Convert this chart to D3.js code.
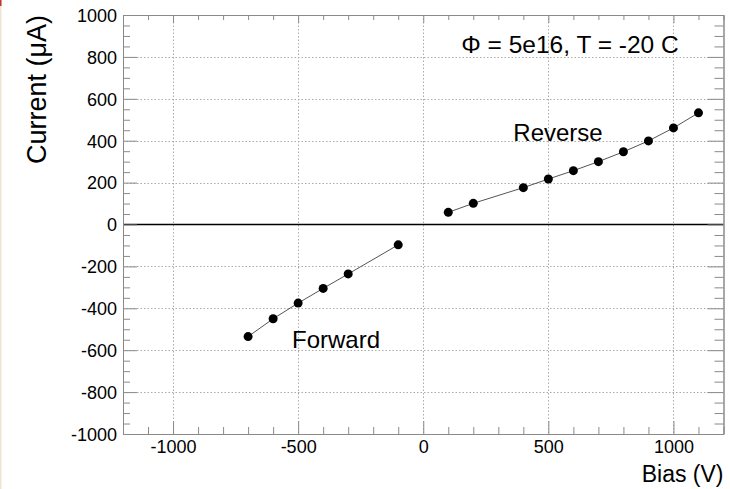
<!DOCTYPE html>
<html>
<head>
<meta charset="utf-8">
<script src="https://cdn.jsdelivr.net/npm/d3@7"></script>
<style>
  body { margin: 0; background: #fff; }
  svg { font-family: "Liberation Sans", Arial, sans-serif; }
</style>
</head>
<body>
<div id="vis"></div>
<script>
// I-V curve, forward and reverse bias
var forwardBias = [-700, -600, -500, -400, -300, -100];
var forwardCurrent = [-535, -450, -375, -305, -236, -97];
var reverseBias = [100, 200, 400, 500, 600, 700, 800, 900, 1000, 1100];
var reverseCurrent = [58, 101, 176, 217, 257, 300, 347, 399, 461, 533];

var xMajor = [-1000, -500, 0, 500, 1000];
var yMajor = [-1000, -800, -600, -400, -200, 0, 200, 400, 600, 800, 1000];

var width = 730, height = 489;
var padLeft = 123, padRight = 723.5, padTop = 15, padBottom = 434;

var svg = d3.select('#vis').append('svg')
  .attr('width', width)
  .attr('height', height);

// thin strip on the left edge
svg.append('rect').attr('x', 0).attr('y', 0).attr('width', 1.5).attr('height', height).attr('fill', '#ece6d2');
svg.append('rect').attr('x', 0).attr('y', 0).attr('width', 1.5).attr('height', 6).attr('fill', '#c0392b');

var x = d3.scaleLinear().domain([-1200, 1200]).range([padLeft, padRight]);
var y = d3.scaleLinear().domain([-1000, 1000]).range([padBottom, padTop]);

var xMinor = d3.range(-1200, 1201, 100).filter(function (d) { return xMajor.indexOf(d) < 0; });
var yMinor = d3.range(-1000, 1001, 50).filter(function (d) { return yMajor.indexOf(d) < 0; });

// grid
var grid = svg.append('g').attr('stroke', '#aaa').attr('stroke-width', 1).attr('stroke-dasharray', '1.5,2');
grid.selectAll('.gx').data(xMajor).enter().append('line')
  .attr('x1', function (d) { return Math.round(x(d)) + 0.5; })
  .attr('x2', function (d) { return Math.round(x(d)) + 0.5; })
  .attr('y1', padTop).attr('y2', padBottom);
grid.selectAll('.gy').data(yMajor.filter(function (d) { return d !== 0; })).enter().append('line')
  .attr('y1', function (d) { return Math.round(y(d)) + 0.5; })
  .attr('y2', function (d) { return Math.round(y(d)) + 0.5; })
  .attr('x1', padLeft).attr('x2', padRight);

// zero line
svg.append('line')
  .attr('x1', padLeft).attr('x2', padRight)
  .attr('y1', y(0)).attr('y2', y(0))
  .attr('stroke', '#000').attr('stroke-width', 1.6);

function drawAxis(gen, tx, ty, vals, len) {
  var g = svg.append('g').attr('transform', 'translate(' + tx + ',' + ty + ')')
    .call(gen.tickValues(vals).tickSizeInner(len).tickSizeOuter(0).tickFormat(''));
  g.select('.domain').attr('stroke', '#8a8a8a');
  g.selectAll('.tick line').attr('stroke', '#8a8a8a');
  return g;
}

// bottom axis (ticks pointing inward)
var xb = drawAxis(d3.axisTop(x), 0, padBottom, xMajor, 13);
drawAxis(d3.axisTop(x), 0, padBottom, xMinor, 7);
xb.selectAll('.tick').append('text')
  .attr('y', 19)
  .attr('text-anchor', 'middle')
  .attr('fill', '#000').attr('font-size', 18)
  .text(function (d) { return String(d); });
// top axis
drawAxis(d3.axisBottom(x), 0, padTop, xMajor, 8);
drawAxis(d3.axisBottom(x), 0, padTop, xMinor, 5);
// left axis
var yl = drawAxis(d3.axisRight(y), padLeft, 0, yMajor, 14);
drawAxis(d3.axisRight(y), padLeft, 0, yMinor, 7);
yl.selectAll('.tick').append('text')
  .attr('x', -6).attr('dy', '0.35em')
  .attr('text-anchor', 'end')
  .attr('fill', '#000').attr('font-size', 18)
  .text(function (d) { return String(d); });
// right axis
drawAxis(d3.axisLeft(y), padRight, 0, yMajor, 16);
drawAxis(d3.axisLeft(y), padRight, 0, yMinor, 9);

// series
var line = d3.line()
  .x(function (d) { return x(d[0]); })
  .y(function (d) { return y(d[1]); });

var series = [
  d3.zip(forwardBias, forwardCurrent),
  d3.zip(reverseBias, reverseCurrent)
];

series.forEach(function (pts) {
  svg.append('path')
    .datum(pts)
    .attr('d', line)
    .attr('fill', 'none')
    .attr('stroke', '#555')
    .attr('stroke-width', 1);
  svg.selectAll(null).data(pts).enter().append('circle')
    .attr('cx', function (d) { return x(d[0]); })
    .attr('cy', function (d) { return y(d[1]); })
    .attr('r', 4.5)
    .attr('fill', '#000');
});

// labels
svg.append('text').attr('x', 558).attr('y', 141).attr('text-anchor', 'middle')
  .attr('font-size', 24).text('Reverse');
svg.append('text').attr('x', 336).attr('y', 348).attr('text-anchor', 'middle')
  .attr('font-size', 24).text('Forward');
svg.append('text').attr('x', 570).attr('y', 53).attr('text-anchor', 'middle')
  .attr('font-size', 24.5).text('\u03A6 = 5e16, T = -20 C');

// axis titles
svg.append('text').attr('x', padRight).attr('y', 482).attr('text-anchor', 'end')
  .attr('font-size', 23).text('Bias (V)');
svg.append('text')
  .attr('transform', 'translate(46,' + padTop + ') rotate(-90)')
  .attr('text-anchor', 'end')
  .attr('font-size', 27).text('Current (\u03BCA)');
</script>
</body>
</html>
